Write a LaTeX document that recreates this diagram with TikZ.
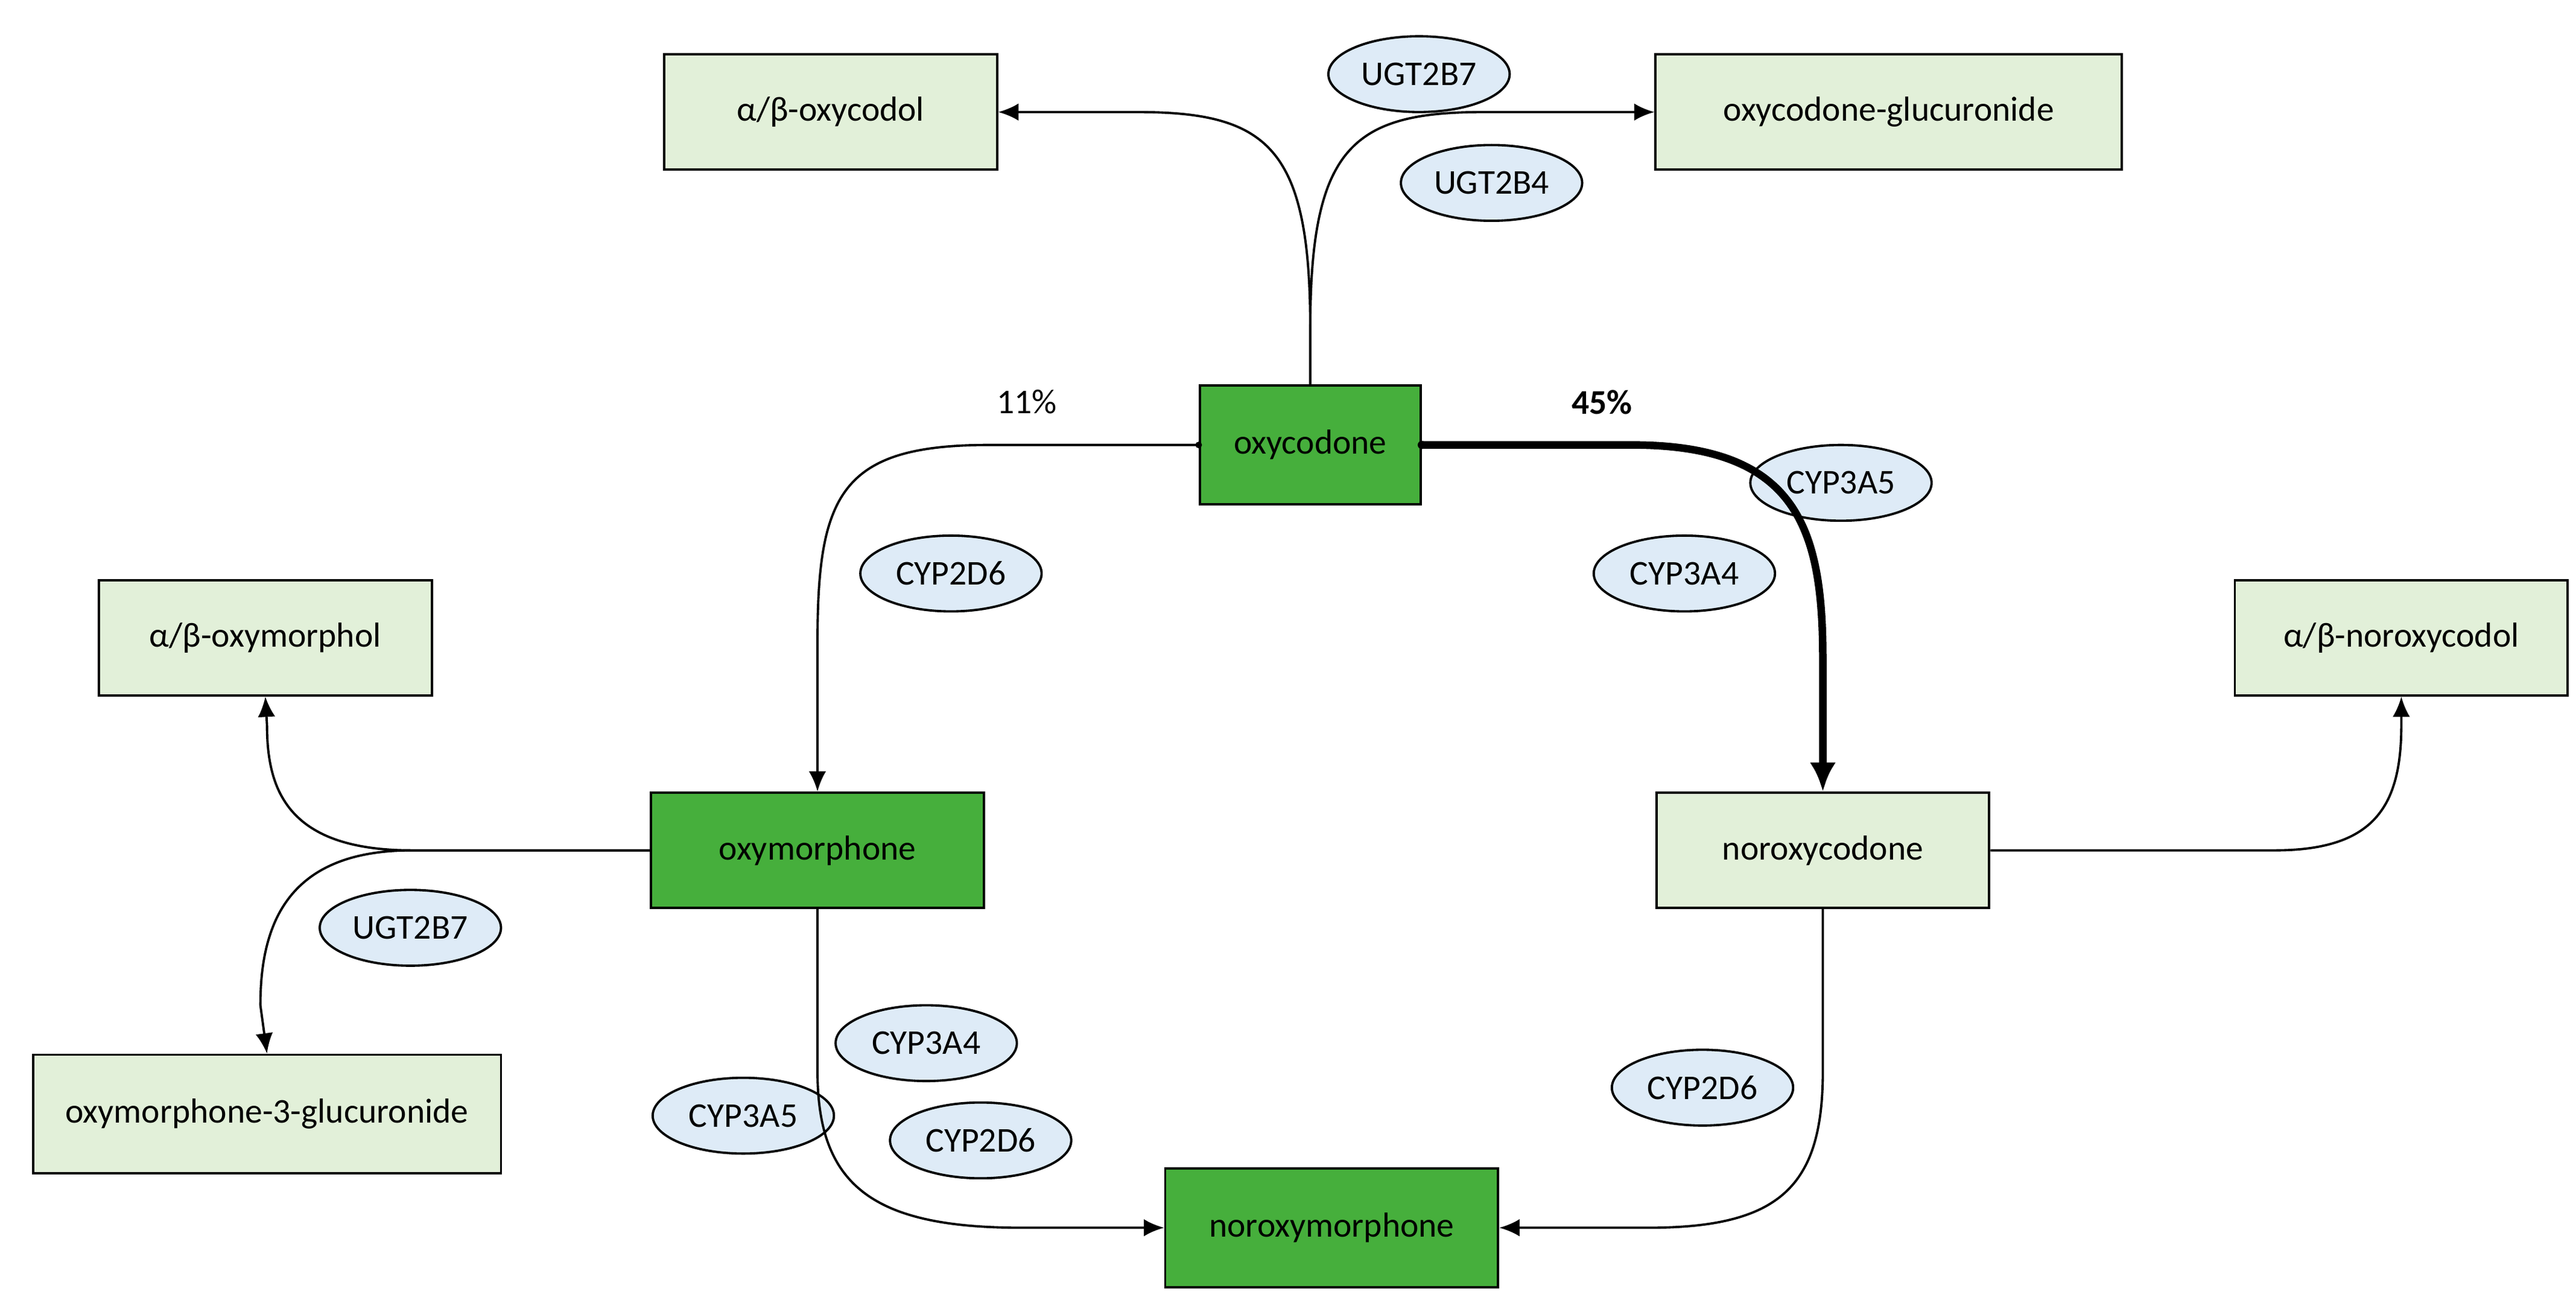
\documentclass[tikz,border=0pt]{standalone}
\usepackage{fontspec}
\setmainfont{Carlito}
\usetikzlibrary{arrows.meta,shapes.geometric}
\definecolor{dg}{HTML}{46AF3C}
\definecolor{lg}{HTML}{E2F0D9}
\definecolor{lb}{HTML}{DEEBF7}
\begin{document}
\begin{tikzpicture}[x=0.02cm,y=-0.02cm,
 font=\fontsize{12}{14}\selectfont,
 box/.style={draw,line width=0.8pt,minimum width=4.04cm,minimum height=1.4cm,inner sep=0pt},
 light/.style={box,fill=lg},
 dark/.style={box,fill=dg},
 enz/.style={draw,ellipse,line width=0.8pt,fill=lb,minimum width=2.2cm,minimum height=0.92cm,inner sep=0pt},
 con/.style={line width=0.8pt,-{Latex[length=7pt,width=6pt]}},
 thk/.style={line width=2.6pt,-{Latex[length=10pt,width=9pt]}}]
\useasboundingbox (0,0) rectangle (1563,794);
\node[light] (oxol) at (504,68) {α/β-oxycodol};
\node[light,minimum width=5.66cm] (oglu) at (1146,68) {oxycodone-glucuronide};
\node[dark,minimum width=2.68cm,minimum height=1.44cm] (oxy) at (795,270) {oxycodone};
\node[light] (omol) at (161,387) {α/β-oxymorphol};
\node[light] (nol) at (1457,387) {α/β-noroxycodol};
\node[dark] (om) at (496,516) {oxymorphone};
\node[light] (nor) at (1106,516) {noroxycodone};
\node[light,minimum width=5.68cm,minimum height=1.44cm] (omg) at (162,676) {oxymorphone-3-glucuronide};
\node[dark,minimum height=1.44cm] (nom) at (808,745) {noroxymorphone};
\node[enz] (e1) at (861,45) {UGT2B7};
\node[enz] (e2) at (905,111) {UGT2B4};
\node[enz] (e3) at (1117,293) {CYP3A5};
\node[enz] (e4) at (1022,348) {CYP3A4};
\node[enz] (e5) at (577,348) {CYP2D6};
\node[enz] (e6) at (249,563) {UGT2B7};
\node[enz] (e7) at (562,633) {CYP3A4};
\node[enz] (e8) at (451,677) {CYP3A5};
\node[enz] (e9) at (595,692) {CYP2D6};
\node[enz] (e10) at (1033,660) {CYP2D6};
\node (p1) at (623,244) {11\%};
\node (p2) at (972,244) {\textbf{45\%}};
\draw[con] (oxy.north) -- (795,200) .. controls (795,90) and (770,68) .. (690,68) -- (oxol.east);
\draw[con] (oxy.north) -- (795,200) .. controls (795,90) and (820,68) .. (900,68) -- (oglu.west);
\fill (oxy.west) circle (2);
\draw[con] (oxy.west) -- (600,270) .. controls (510,270) and (496,300) .. (496,390) -- (om.north);
\fill (oxy.east) circle (2.5);
\draw[thk] (oxy.east) -- (990,270) .. controls (1090,270) and (1106,320) .. (1106,400) -- (nor.north);
\draw[con] (om.west) -- (250,516) .. controls (175,516) and (162,480) .. (162,440) -- (omol.south);
\draw[con] (om.west) -- (250,516) .. controls (175,516) and (158,560) .. (158,610) -- (omg.north);
\draw[con] (om.south) -- (496,650) .. controls (496,720) and (530,745) .. (620,745) -- (nom.west);
\draw[con] (nor.south) -- (1106,650) .. controls (1106,720) and (1080,745) .. (1000,745) -- (nom.east);
\draw[con] (nor.east) -- (1380,516) .. controls (1440,516) and (1457,490) .. (1457,440) -- (nol.south);
\end{tikzpicture}
\end{document}
